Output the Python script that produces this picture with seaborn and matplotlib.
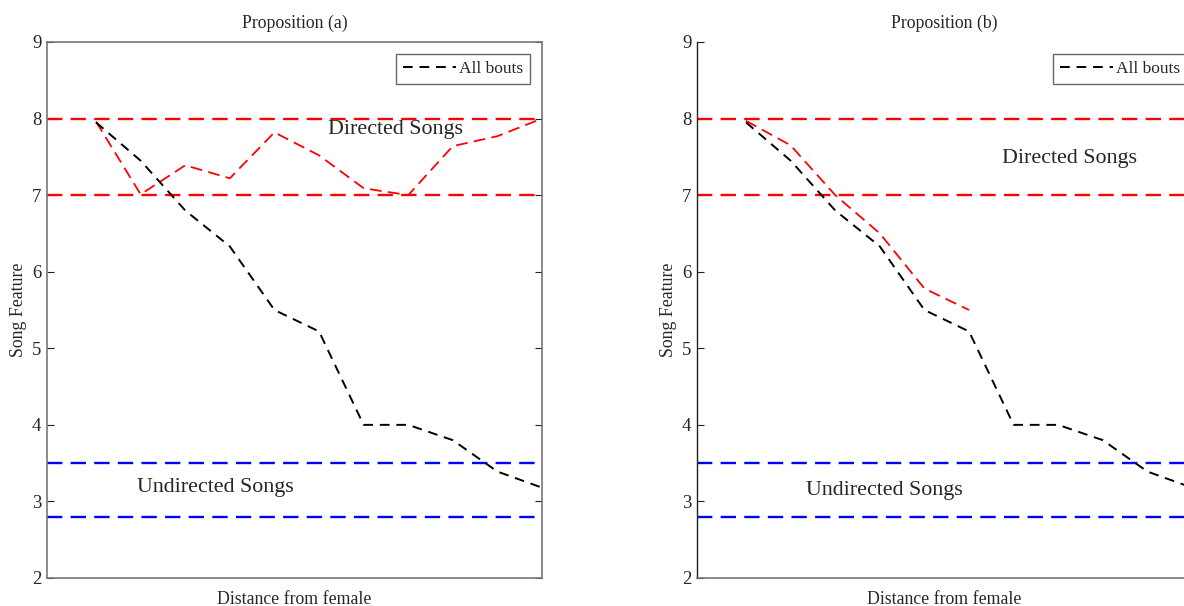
import numpy as np
import pandas as pd
import matplotlib
matplotlib.use("Agg")
import matplotlib.pyplot as plt
import seaborn as sns

# data
steps = list(range(1, 12))
all_bouts = [7.95, 7.45, 6.8, 6.33, 5.5, 5.22, 4.0, 4.0, 3.8, 3.39, 3.18]
directed_a = [7.96, 7.01, 7.39, 7.22, 7.82, 7.52, 7.09, 7.0, 7.64, 7.77, 8.0]
directed_b = [7.97, 7.65, 7.0, 6.5, 5.78, 5.5]
directed_band = [7.0, 8.0]
undirected_band = [2.8, 3.5]
y_ticks = [2, 3, 4, 5, 6, 7, 8, 9]

sns.set_theme(style="white")
plt.rcParams["font.family"] = ["Liberation Serif", "DejaVu Serif"]

fig = plt.figure(figsize=(11.84, 6.06), dpi=100)
ax_a = fig.add_axes([47 / 1184, 1 - 578 / 606, 495 / 1184, 536 / 606])
ax_b = fig.add_axes([697 / 1184, 1 - 578 / 606, 495 / 1184, 536 / 606])

df_a = pd.DataFrame({"step": steps, "all": all_bouts, "dir": directed_a})
df_b = pd.DataFrame({"step": steps[:len(directed_b)], "dir": directed_b})


def draw_panel(ax, df_dir, title, dir_xy, undir_xy, boxed, leg_x):
    for y in directed_band:
        ax.axhline(y, color="#ff0000", lw=1.7, dashes=(6.5, 3.5))
    for y in undirected_band:
        ax.axhline(y, color="#0000ff", lw=1.7, dashes=(6.5, 3.5))
    sns.lineplot(data=df_dir, x="step", y="dir", ax=ax, color="#ff0000",
                 lw=1.3, legend=False)
    ax.lines[-1].set_dashes((6.5, 3.5))
    sns.lineplot(data=df_a, x="step", y="all", ax=ax, color="black",
                 lw=1.4, legend=False)
    ax.lines[-1].set_dashes((5, 3.5))

    ax.text(dir_xy[0], dir_xy[1], "Directed Songs", fontsize=15.8,
            ha="center", va="center")
    ax.text(undir_xy[0], undir_xy[1], "Undirected Songs", fontsize=15.8,
            ha="center", va="center")

    ax.set_xlim(-0.1, 11)
    ax.set_ylim(2, 9)
    ax.set_xticks([])
    ax.set_yticks(y_ticks)
    ax.set_yticklabels([str(t) for t in y_ticks], fontsize=13.5)
    ax.set_xlabel("Distance from female", fontsize=12.8, labelpad=9)
    ax.set_ylabel("Song Feature", fontsize=12.8, labelpad=4)
    ax.set_title(title, fontsize=12.8, pad=10)
    ax.tick_params(axis="y", direction="in", length=5, width=0.8,
                   color="#222222", pad=4, right=boxed, left=True)

    for side, sp in ax.spines.items():
        sp.set_color("#777777")
        sp.set_linewidth(1.2)
    if not boxed:
        ax.spines["top"].set_visible(False)
        ax.spines["right"].set_visible(False)
        ax.spines["left"].set_color("#222222")
        ax.spines["left"].set_linewidth(1.0)

    handles = [ax.lines[-1]]
    leg = ax.legend(handles, ["All bouts"], loc="upper right", fontsize=12.5,
                    frameon=True, fancybox=False, handlelength=3.1,
                    handletextpad=0.15, borderpad=0.4, borderaxespad=0,
                    bbox_to_anchor=(leg_x, 0.977))
    leg.get_frame().set_edgecolor("#444444")
    leg.get_frame().set_linewidth(1.0)


draw_panel(ax_a, df_a, "Proposition (a)", (7.72, 7.86), (3.68, 3.18), True, 0.976)
draw_panel(ax_b, df_b, "Proposition (b)", (8.25, 7.48), (4.1, 3.14), False, 0.99)

fig.savefig("out.png", dpi=100)
